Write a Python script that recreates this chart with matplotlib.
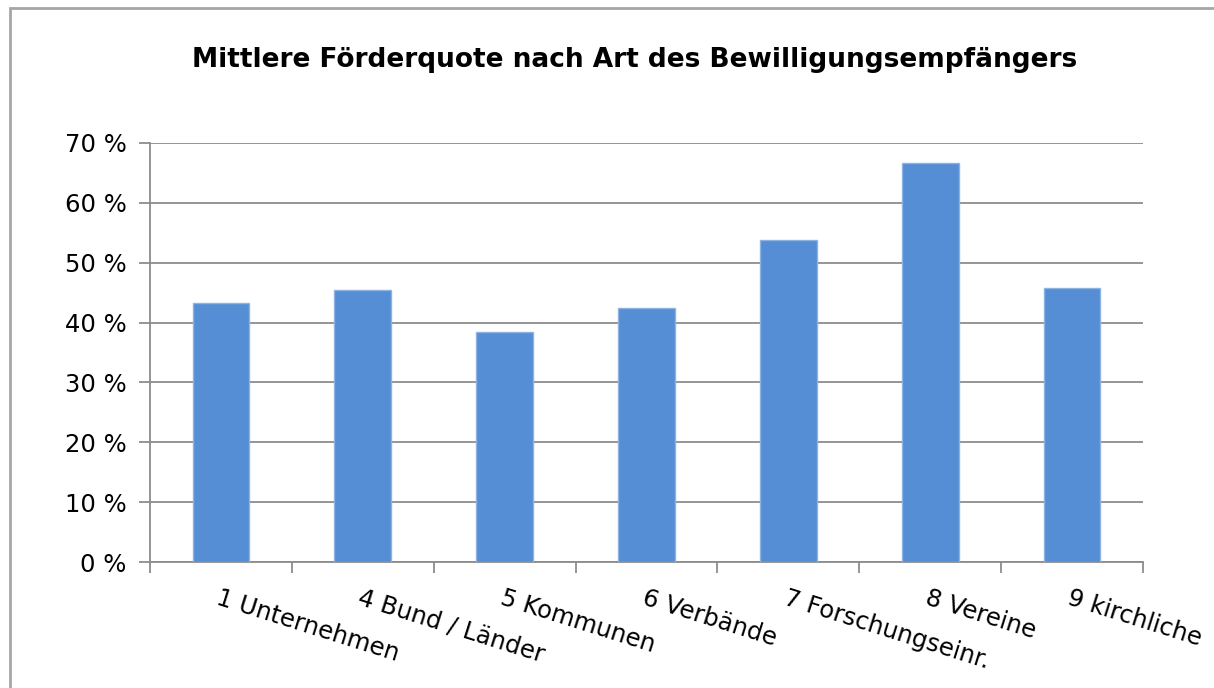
import matplotlib.pyplot as plt
from matplotlib.patches import Rectangle

categories = ["1 Unternehmen", "4 Bund / Länder", "5 Kommunen", "6 Verbände",
              "7 Forschungseinr.", "8 Vereine", "9 kirchliche"]
values = [43.3, 45.5, 38.4, 42.5, 53.8, 66.7, 45.8]
yticks = [0, 10, 20, 30, 40, 50, 60, 70]
title = "Mittlere Förderquote nach Art des Bewilligungsempfängers"

plt.rcParams['font.family'] = ['DejaVu Sans']
fig = plt.figure(figsize=(12.14, 6.88), dpi=100)
ax = fig.add_axes([0.1236, 0.1831, 0.8179, 0.6091])

x = list(range(len(categories)))
ax.bar(x, values, width=0.4, color="#558ED5", edgecolor="#8DB3E2", linewidth=1, zorder=3)

ax.set_xlim(-0.5, len(categories) - 0.5)
ax.set_ylim(0, 70)
ax.set_yticks(yticks)
ax.set_yticklabels([f"{v} %" for v in yticks], fontsize=17.5)
ax.yaxis.grid(True, color="#8c8c8c", linewidth=1.3, zorder=0)

ax.set_xticks([i - 0.5 for i in range(len(categories) + 1)])
ax.set_xticklabels([])
ax.set_xticks(x, minor=True)
ax.set_xticklabels(categories, minor=True, fontsize=17.5, rotation=-17.5,
                   ha="left", va="top", rotation_mode="anchor")
ax.tick_params(axis="x", which="minor", length=0, pad=17)
ax.tick_params(axis="x", which="major", length=8, color="#8c8c8c", width=1.3)
ax.tick_params(axis="y", length=8, color="#8c8c8c", width=1.3, pad=9)

for s in ["top", "right"]:
    ax.spines[s].set_visible(False)
for s in ["left", "bottom"]:
    ax.spines[s].set_color("#8c8c8c")
    ax.spines[s].set_linewidth(1.3)

fig.text(0.523, 0.913, title, ha="center", va="center", fontsize=19, fontweight="bold")

# chart area border
fig.patches.append(Rectangle((10 / 1214, -0.1), 1.2, 1 - 8 / 688 + 0.1,
                             transform=fig.transFigure, fill=False,
                             edgecolor="#a6a6a6", linewidth=2))

fig.savefig("out.png", dpi=100)
